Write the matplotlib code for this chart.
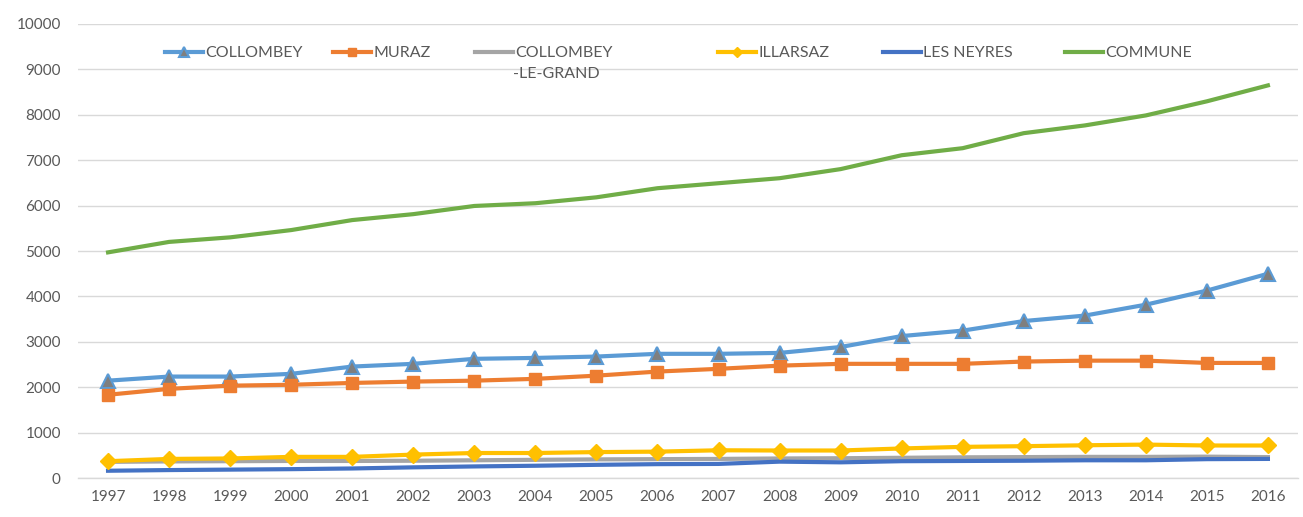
import matplotlib.pyplot as plt

plt.rcParams['font.family'] = ['Lato', 'DejaVu Sans']

# Données
annees = list(range(1997, 2017))
collombey = [2150, 2240, 2240, 2300, 2460, 2520, 2630, 2650, 2680, 2740,
             2740, 2760, 2890, 3130, 3250, 3460, 3580, 3820, 4130, 4500]
muraz = [1840, 1970, 2040, 2060, 2100, 2130, 2150, 2190, 2260, 2350,
         2410, 2480, 2520, 2520, 2520, 2570, 2590, 2590, 2540, 2540]
collombey_le_grand = [365, 375, 380, 385, 385, 390, 400, 410, 420, 425,
                      430, 440, 445, 455, 465, 470, 475, 475, 480, 470]
illarsaz = [380, 430, 440, 475, 475, 525, 560, 560, 580, 590,
            620, 615, 615, 660, 695, 710, 730, 745, 725, 725]
les_neyres = [170, 185, 195, 205, 220, 245, 265, 280, 300, 315,
              320, 370, 355, 380, 385, 390, 400, 400, 425, 430]
commune = [4970, 5200, 5300, 5460, 5680, 5810, 5990, 6050, 6180, 6380,
           6490, 6600, 6800, 7105, 7260, 7590, 7760, 7980, 8290, 8640]

gris_texte = "#595959"

fig = plt.figure(figsize=(13.03, 5.17), dpi=100)
ax = fig.add_axes([0.0595, 0.0745, 0.937, 0.880])

lw = 3
l1, = ax.plot(annees, collombey, color="#5B9BD5", lw=lw, marker="^", markersize=10.5,
              markerfacecolor="#7F7F7F", markeredgecolor="#5B9BD5", markeredgewidth=1.5,
              label="COLLOMBEY", zorder=4)
l2, = ax.plot(annees, muraz, color="#ED7D31", lw=lw, marker="s", markersize=9,
              label="MURAZ", zorder=4)
l3, = ax.plot(annees, collombey_le_grand, color="#A5A5A5", lw=lw,
              label="COLLOMBEY", zorder=3)
l4, = ax.plot(annees, illarsaz, color="#FFC000", lw=lw, marker="D", markersize=8,
              label="ILLARSAZ", zorder=4)
l5, = ax.plot(annees, les_neyres, color="#4472C4", lw=lw,
              label="LES NEYRES", zorder=3)
l6, = ax.plot(annees, commune, color="#70AD47", lw=lw,
              label="COMMUNE", zorder=3)

ax.set_xlim(1996.5, 2016.5)
ax.set_ylim(0, 10000)
ax.set_xticks(annees)
ax.set_yticks(range(0, 10001, 1000))
ax.tick_params(axis="both", length=0, labelsize=11, colors=gris_texte)
ax.tick_params(axis="y", pad=12)
ax.tick_params(axis="x", pad=8)
ax.grid(axis="y", color="#D9D9D9", lw=1)
ax.set_axisbelow(True)
for s in ["top", "right", "left"]:
    ax.spines[s].set_visible(False)
ax.spines["bottom"].set_color("#D9D9D9")
ax.spines["bottom"].set_linewidth(1)

# Légende : une entrée par position
positions = [0.0717, 0.2092, 0.3256, 0.5246, 0.6597, 0.8088]
lignes = [l1, l2, l3, l4, l5, l6]
for ligne, xpos in zip(lignes, positions):
    leg = ax.legend([ligne], [ligne.get_label()], loc="center left",
                    bbox_to_anchor=(xpos, 0.935), bbox_transform=ax.transAxes,
                    frameon=False, borderpad=0, borderaxespad=0,
                    handlelength=2.4, handletextpad=0.12, fontsize=11.5,
                    markerscale=0.65, labelcolor=gris_texte)
    ax.add_artist(leg)
ax.legend_ = None
ax.text(0.3567, 0.888, "-LE-GRAND", transform=ax.transAxes, fontsize=11.5,
        color=gris_texte, va="center", ha="left")

fig.savefig("out.png", dpi=100)
